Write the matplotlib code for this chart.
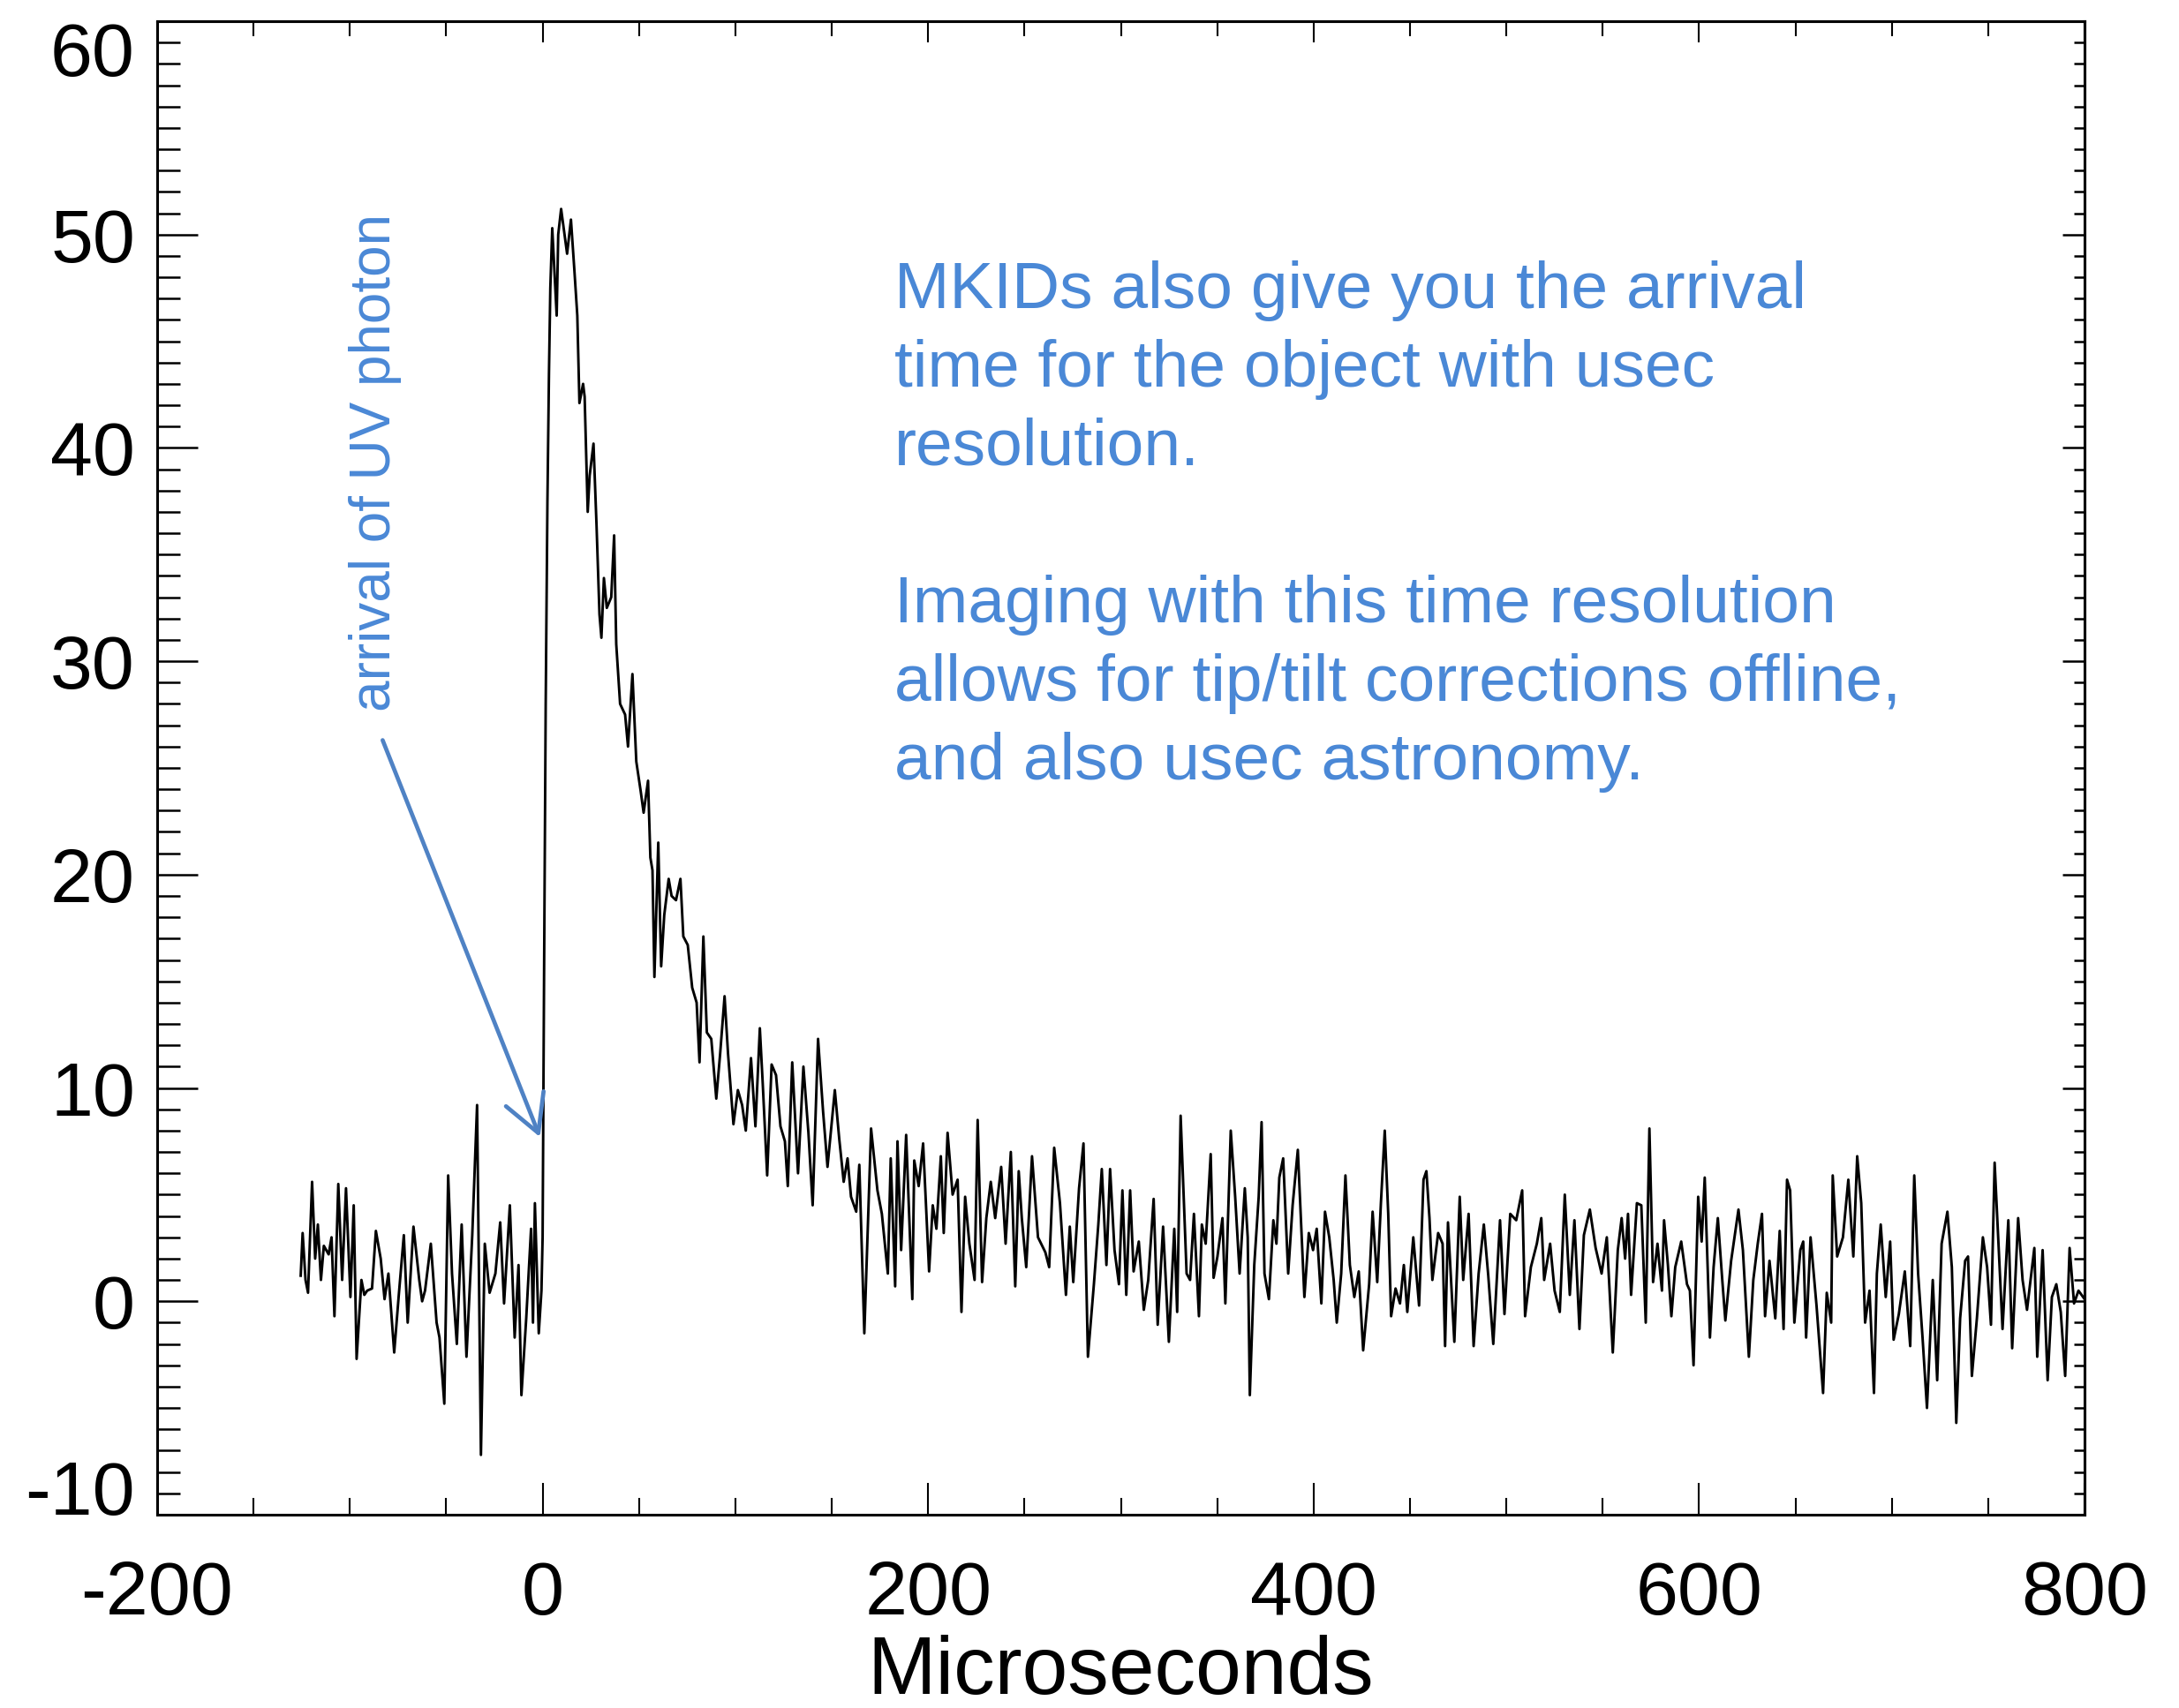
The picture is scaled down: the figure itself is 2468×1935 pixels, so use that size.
"""MKID single-photon pulse with arrival-time annotation."""

import matplotlib

matplotlib.use("Agg")
import matplotlib.pyplot as plt
from matplotlib.ticker import MultipleLocator

plt.rcParams["font.family"] = ["Liberation Sans", "DejaVu Sans"]
plt.rcParams["axes.unicode_minus"] = False

BLUE = "#4a88d6"
ARROW_BLUE = "#4f82c4"

# pre-trigger baseline (microseconds, signal)
pre_t = [-125.5, -124.5, -123.0, -121.7, -119.6, -118.0, -116.6, -115.0, -113.5, -111.0,
         -109.5, -108.0, -106.0, -104.0, -102.0, -99.7, -98.0, -96.5, -94.0, -92.5,
         -91.0, -88.5, -86.5, -84.0, -82.0, -80.0, -77.0, -74.7, -72.0, -70.0,
         -67.0, -64.0, -62.5, -61.0, -58.0, -55.0, -53.5, -51.0, -49.0, -47.0,
         -44.5, -42.0, -39.5, -36.5, -34.0, -32.0, -30.0, -27.5, -24.5, -22.0,
         -20.0, -17.0, -14.5, -12.5, -11.0, -8.5, -6.0, -5.0, -4.0, -2.0, -0.6]
pre_y = [1.2, 3.2, 1.0, 0.4, 5.6, 2.0, 3.6, 1.0, 2.6, 2.2,
         3.0, -0.7, 5.5, 1.0, 5.3, 0.2, 4.5, -2.7, 1.0, 0.3,
         0.5, 0.6, 3.3, 2.0, 0.1, 1.3, -2.4, 0.2, 3.1, -1.0,
         3.5, 1.0, 0.0, 0.5, 2.7, -1.0, -1.7, -4.8, 5.9, 1.3,
         -2.0, 3.6, -2.6, 3.1, 9.2, -7.2, 2.7, 0.4, 1.3, 3.7,
         -0.1, 4.5, -1.7, 1.7, -4.4, -0.8, 3.4, -1.0, 4.6, -1.5, 0.5]

# rise and decay of the pulse
pulse_t = [0.0, 0.8, 1.6, 2.5, 3.3, 4.0, 5.0, 7.3, 8.1, 9.6,
           12.7, 14.7, 16.5, 18.0, 19.1, 21.0, 21.8, 23.4, 24.4, 26.4,
           28.0, 29.5, 30.5, 31.8, 33.3, 35.6, 37.1, 38.2, 40.2, 42.8,
           44.3, 46.6, 48.6, 50.9, 52.4, 54.7, 55.9, 57.0, 58.0, 60.0,
           61.5, 63.1, 65.4, 66.9, 69.2, 71.5, 73.0, 75.3, 77.6, 79.9,
           81.4, 83.4, 85.2, 87.5, 90.1, 92.1, 94.4, 96.2, 99.0, 101.3,
           103.5, 105.4, 108.1, 110.4, 112.7, 114.2, 116.5, 118.8, 121.1, 123.4,
           125.7, 127.2, 129.5]
pulse_y = [3.0, 16.0, 28.0, 37.5, 43.5, 47.5, 50.3, 46.2, 50.0, 51.2,
           49.1, 50.7, 48.3, 46.2, 42.1, 43.0, 42.4, 37.0, 38.7, 40.2,
           36.3, 32.2, 31.1, 33.9, 32.5, 33.0, 35.9, 30.8, 28.0, 27.5,
           26.0, 29.4, 25.3, 23.9, 22.9, 24.4, 20.8, 20.2, 15.2, 21.5,
           15.7, 18.1, 19.8, 19.0, 18.8, 19.8, 17.1, 16.7, 14.7, 14.0,
           11.2, 17.1, 12.6, 12.3, 9.5, 11.6, 14.3, 11.6, 8.3, 9.9,
           9.2, 8.0, 11.4, 8.2, 12.8, 10.2, 5.9, 11.1, 10.6, 8.2,
           7.5, 5.4, 11.2]

# tail, 130 - 350 us
tail1_t = [132.5, 135.3, 137.9, 140.1, 142.9, 145.5, 147.8, 151.6, 153.9, 156.2,
           158.2, 160.0, 162.7, 164.3, 166.9, 170.4, 173.7, 176.0, 179.1, 180.6,
           182.9, 184.1, 186.0, 188.6, 191.8, 192.8, 195.1, 197.4, 200.5, 202.4,
           204.3, 206.6, 208.1, 210.1, 212.7, 215.3, 217.3, 219.2, 221.4, 224.1,
           225.7, 228.0, 230.2, 232.5, 234.8, 237.9, 240.2, 242.9, 245.2, 247.0,
           248.6, 250.9, 253.9, 257.0, 260.8, 262.8, 265.4, 268.4, 271.5, 273.5,
           275.3, 278.3, 280.6, 282.9, 286.0, 288.3, 290.1, 292.5, 294.4, 296.7,
           299.0, 300.8, 302.8, 304.8, 306.6, 309.3, 311.9, 314.2, 317.0, 319.1,
           321.9, 324.9, 327.7, 329.2, 331.0, 334.1, 335.9, 337.9, 340.5, 342.0,
           344.0, 346.6, 348.1, 350.1]
tail1_y = [6.0, 11.0, 7.9, 4.5, 12.3, 8.9, 6.3, 9.9, 7.6, 5.6,
           6.7, 4.9, 4.2, 6.4, -1.5, 8.1, 5.2, 4.1, 1.3, 6.7,
           0.7, 7.5, 2.4, 7.8, 0.1, 6.6, 5.4, 7.4, 1.4, 4.5,
           3.4, 6.8, 3.2, 7.9, 5.0, 5.7, -0.5, 4.9, 2.7, 1.0,
           8.5, 0.9, 3.9, 5.6, 3.9, 6.3, 2.7, 7.0, 0.7, 6.1,
           3.9, 1.6, 6.8, 3.0, 2.3, 1.6, 7.2, 4.6, 0.3, 3.5,
           0.9, 5.3, 7.4, -2.6, 0.8, 3.6, 6.2, 1.7, 6.2, 2.4,
           0.8, 5.2, 0.3, 5.2, 1.4, 2.8, -0.4, 1.0, 4.8, -1.1,
           3.5, -1.9, 3.4, -0.5, 8.7, 1.3, 1.0, 4.1, -0.7, 3.6,
           2.7, 6.9, 1.1, 2.1]

# tail, 350 - 572 us
tail2_t = [352.7, 354.2, 357.0, 359.3, 361.6, 364.3, 365.8, 366.9, 369.2, 371.5,
           373.0, 374.5, 376.8, 379.1, 380.7, 382.2, 384.2, 386.8, 389.1, 391.8,
           395.2, 397.5, 399.7, 401.6, 404.0, 405.9, 408.1, 410.4, 412.0, 414.3,
           416.5, 418.8, 421.1, 423.4, 425.7, 428.8, 430.6, 433.0, 434.9, 436.9,
           438.7, 440.2, 442.5, 444.8, 446.8, 448.6, 451.7, 454.7, 457.0, 458.5,
           460.1, 461.6, 464.6, 466.9, 468.2, 469.7, 473.0, 475.8, 477.6, 480.4,
           483.0, 485.6, 488.3, 490.6, 493.2, 496.7, 499.0, 502.0, 505.1, 508.2,
           509.7, 512.7, 515.8, 518.1, 519.6, 522.7, 525.0, 527.7, 530.3, 532.9,
           535.3, 537.9, 540.2, 543.3, 546.3, 549.4, 552.1, 555.2, 557.8, 559.8,
           561.6, 563.1, 564.7, 567.7, 570.0, 572.3]
tail2_y = [3.9, -0.1, 8.0, 4.9, 1.3, 5.3, 3.0, -4.4, 1.7, 4.9,
           8.4, 1.3, 0.1, 3.8, 2.7, 5.8, 6.7, 1.3, 4.5, 7.1,
           0.2, 3.2, 2.4, 3.4, -0.1, 4.2, 3.0, 1.0, -1.0, 1.3,
           5.9, 1.7, 0.2, 1.4, -2.3, 0.8, 4.2, 0.9, 4.6, 8.0,
           4.1, -0.7, 0.6, -0.1, 1.7, -0.5, 3.0, -0.2, 5.7, 6.1,
           3.9, 1.0, 3.2, 2.7, -2.1, 3.7, -1.9, 4.9, 1.0, 4.1,
           -2.1, 1.3, 3.6, 1.2, -2.0, 3.8, -0.6, 4.1, 3.8, 5.2,
           -0.7, 1.6, 2.7, 3.9, 1.0, 2.7, 0.5, -0.5, 5.0, 0.3,
           3.8, -1.3, 3.1, 4.3, 2.5, 1.3, 3.0, -2.4, 2.4, 3.9,
           2.0, 4.1, 0.3, 4.6, 4.5, -1.0]

# tail, 574 - 800 us
tail3_t = [574.2, 576.1, 578.4, 580.7, 581.8, 583.8, 585.6, 587.6, 590.7, 593.7,
           595.2, 597.1, 599.5, 601.3, 602.9, 605.6, 607.5, 609.7, 612.0, 613.6,
           616.6, 620.4, 622.7, 625.8, 628.1, 630.4, 632.6, 634.2, 636.5, 639.5,
           641.8, 643.8, 645.6, 647.2, 649.4, 652.5, 654.0, 655.5, 657.8, 660.9,
           664.3, 666.2, 668.5, 669.3, 671.6, 674.6, 677.4, 680.0, 682.0, 684.1,
           686.1, 688.4, 690.7, 692.2, 694.2, 696.8, 699.1, 700.9, 703.6, 706.7,
           709.5, 711.6, 713.6, 715.9, 718.2, 721.2, 723.5, 725.8, 728.8, 731.1,
           733.4, 735.4, 738.0, 739.5, 741.5, 744.1, 747.2, 749.4, 751.4, 753.3,
           755.6, 757.4, 760.4, 762.4, 765.5, 767.8, 770.1, 773.9, 775.4, 778.2,
           780.8, 783.0, 785.3, 787.6, 789.9, 792.2, 794.5, 796.8, 800.0]
tail3_y = [8.1, 0.9, 2.7, 0.5, 3.8, 1.7, -0.7, 1.6, 2.8, 0.8,
           0.5, -3.0, 4.9, 2.8, 5.8, -1.7, 1.6, 3.9, 1.0, -0.9,
           1.9, 4.3, 2.4, -2.6, 1.0, 2.7, 4.1, -0.7, 1.9, -0.8,
           3.3, -1.3, 5.7, 5.2, -1.0, 2.4, 2.8, -1.7, 3.0, -0.2,
           -4.3, 0.4, -1.0, 5.9, 2.1, 3.0, 5.7, 2.1, 6.8, 4.6,
           -1.0, 0.5, -4.3, 1.3, 3.6, 0.2, 2.8, -1.8, -0.6, 1.4,
           -2.1, 5.9, 1.3, -1.7, -5.0, 1.0, -3.7, 2.7, 4.2, 1.6,
           -5.7, -0.8, 1.9, 2.1, -3.5, -0.8, 3.0, 1.6, -1.1, 6.5,
           2.1, -1.3, 3.8, -2.2, 3.9, 1.0, -0.4, 2.5, -2.6, 2.4,
           -3.7, 0.2, 0.8, -0.5, -3.5, 2.5, -0.1, 0.5, 0.1]

note_text = ("MKIDs also give you the arrival\n"
             "time for the object with usec\n"
             "resolution.\n"
             "\n"
             "Imaging with this time resolution\n"
             "allows for tip/tilt corrections offline,\n"
             "and also usec astronomy.")
arrow_label = "arrival of UV photon"

times = pre_t + pulse_t + tail1_t + tail2_t + tail3_t
signal = pre_y + pulse_y + tail1_y + tail2_y + tail3_y

fig = plt.figure(figsize=(24.68, 19.35), dpi=100)
ax = fig.add_axes([0.0721, 0.1132, 0.8846, 0.8744])

ax.plot(times, signal, color="black", lw=2.1)

ax.set_xlim(-200, 800)
ax.set_ylim(-10, 60)
ax.xaxis.set_major_locator(MultipleLocator(200))
ax.xaxis.set_minor_locator(MultipleLocator(50))
ax.yaxis.set_major_locator(MultipleLocator(10))
ax.yaxis.set_minor_locator(MultipleLocator(1))

for side in ax.spines.values():
    side.set_linewidth(2.2)

ax.tick_params(axis="x", which="major", direction="in", length=26, width=1.5,
               labelsize=62, pad=37)
ax.tick_params(axis="x", which="minor", direction="in", length=14, width=1.5)
ax.tick_params(axis="y", which="major", direction="in", length=33, width=1.8,
               labelsize=62, pad=18)
ax.tick_params(axis="y", which="minor", direction="in", length=19, width=1.8)

# top and right ticks are shorter than the labelled sides
top = ax.secondary_xaxis("top")
top.xaxis.set_major_locator(MultipleLocator(200))
top.xaxis.set_minor_locator(MultipleLocator(50))
top.tick_params(which="major", direction="in", length=17, width=1.5, labeltop=False)
top.tick_params(which="minor", direction="in", length=12, width=1.5)
top.spines["top"].set_linewidth(2.2)

right = ax.secondary_yaxis("right")
right.yaxis.set_major_locator(MultipleLocator(10))
right.yaxis.set_minor_locator(MultipleLocator(1))
right.tick_params(which="major", direction="in", length=18, width=1.8, labelright=False)
right.tick_params(which="minor", direction="in", length=9, width=1.8)
right.spines["right"].set_linewidth(2.2)

ax.set_xlabel("Microseconds", fontsize=67, labelpad=3)

ax.text(182.3, 48.8, note_text, color=BLUE, fontsize=54, ha="left", va="top",
        linespacing=1.37)
ax.text(-87, 39.3, arrow_label, color=BLUE, fontsize=46, rotation=90,
        ha="center", va="center")
ax.annotate("", xy=(-1.4, 7.7), xytext=(-83, 26.3),
            arrowprops=dict(arrowstyle="->,head_length=1.0,head_width=0.55",
                            color=ARROW_BLUE, lw=3.4, mutation_scale=30,
                            shrinkA=0, shrinkB=0))

# end labels sit inside the axis height, as in the original
fig.canvas.draw()
ylim_lo, ylim_hi = ax.get_ylim()
for tick, loc in zip(ax.yaxis.get_major_ticks(), ax.yaxis.get_majorticklocs()):
    if abs(loc - ylim_hi) < 1e-6:
        tick.label1.set_va("top")
    elif abs(loc - ylim_lo) < 1e-6:
        tick.label1.set_va("baseline")

fig.savefig("out.png", dpi=100)
